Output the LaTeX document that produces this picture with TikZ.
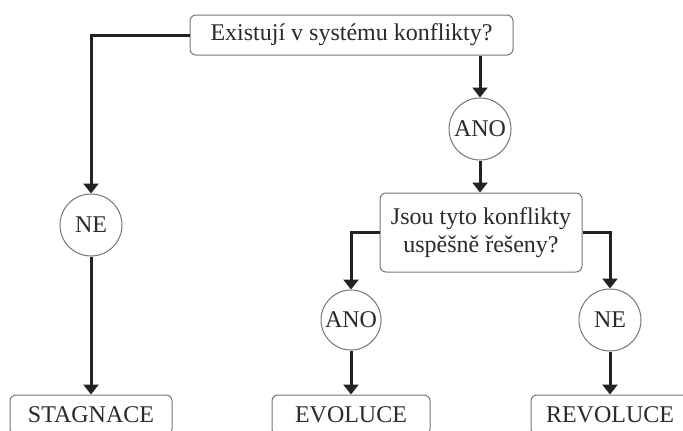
\documentclass[tikz,border=0pt]{standalone}
\usepackage{fontspec}
\setmainfont{Liberation Serif}
\usetikzlibrary{arrows.meta}
\definecolor{txt}{HTML}{2a2a2a}
\definecolor{ln}{HTML}{222222}
\definecolor{bd}{HTML}{777777}
\tikzset{
  every node/.style={font=\fontsize{24}{28}\selectfont, text=txt},
  rbox/.style={draw=bd, line width=1pt, rounded corners=6pt, inner sep=0pt, align=center},
  circ/.style={draw=bd, line width=1pt, circle, inner sep=0pt, minimum size=62pt},
  conn/.style={draw=ln, line width=3pt, -{Triangle[width=15pt,length=10pt]}}
}
\begin{document}
\begin{tikzpicture}[x=1pt,y=-1pt]
\useasboundingbox (0,0) rectangle (683,431);
\fill[white] (0,0) rectangle (683,431);
\node[rbox, minimum width=323pt, minimum height=40pt] (top) at (351.5,35) {Existují v systému konflikty?};
\node[circ] (ano1) at (480,129) {ANO};
\node[rbox, minimum width=202pt, minimum height=79pt] (q2) at (481,232.5) {Jsou tyto konflikty\\uspěšně řešeny?};
\node[circ] (ne1) at (91,225) {NE};
\node[circ, minimum size=60pt] (ano2) at (351,320) {ANO};
\node[circ] (ne2) at (610,320) {NE};
\node[rbox, minimum width=162pt, minimum height=40pt] (stag) at (91,415) {STAGNACE};
\node[rbox, minimum width=158pt, minimum height=40pt] (evo) at (351,415) {EVOLUCE};
\node[rbox, minimum width=158pt, minimum height=40pt] (rev) at (610,415) {REVOLUCE};
\draw[conn] (top.west) -| (ne1.north);
\draw[conn] (top.south -| ano1.north) -- (ano1.north);
\draw[conn] (ano1.south) -- (q2.north -| ano1.south);
\draw[conn] (q2.west) -| (ano2.north);
\draw[conn] (q2.east) -| (ne2.north);
\draw[conn] (ne1.south) -- (stag.north);
\draw[conn] (ano2.south) -- (evo.north);
\draw[conn] (ne2.south) -- (rev.north);
\end{tikzpicture}
\end{document}
